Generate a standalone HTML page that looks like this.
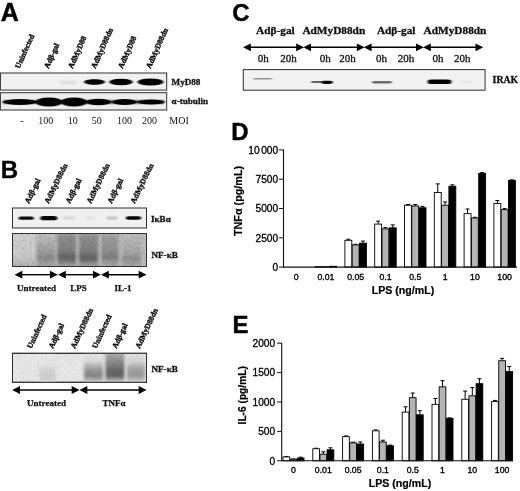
<!DOCTYPE html>
<html><head><meta charset="utf-8"><title>Figure</title>
<style>
html,body{margin:0;padding:0;background:#fff;}
svg{display:block;}
.sb{font-family:"Liberation Serif",serif;font-weight:bold;fill:#111;}
.sr{font-family:"Liberation Serif",serif;fill:#111;}
.hb{font-family:"Liberation Sans",sans-serif;font-weight:bold;fill:#000;}
.hr{font-family:"Liberation Sans",sans-serif;fill:#000;}
</style></head><body>
<svg width="520" height="491" viewBox="0 0 520 491">
<defs>
<filter id="b1" x="-20%" y="-50%" width="140%" height="200%"><feGaussianBlur stdDeviation="1.1 0.8"/></filter>
<filter id="b2" x="-20%" y="-50%" width="140%" height="200%"><feGaussianBlur stdDeviation="2 1.5"/></filter>
<filter id="b3" x="-30%" y="-30%" width="160%" height="160%"><feGaussianBlur stdDeviation="2.5 3.5"/></filter>
<filter id="b0" x="-20%" y="-50%" width="140%" height="200%"><feGaussianBlur stdDeviation="0.8 0.55"/></filter>
<filter id="ns" x="0" y="0" width="100%" height="100%"><feTurbulence type="fractalNoise" baseFrequency="0.4" numOctaves="2" seed="3" result="t"/><feColorMatrix in="t" type="matrix" values="0 0 0 0 0  0 0 0 0 0  0 0 0 0 0  1.6 0 0 0 -0.55"/></filter>
<filter id="bl" x="-20%" y="-20%" width="140%" height="140%"><feGaussianBlur stdDeviation="1.6 1.4"/></filter>
<clipPath id="cA1"><rect x="0.4" y="73" width="166.3" height="17.1"/></clipPath>
<clipPath id="cA2"><rect x="0.4" y="92.7" width="166.3" height="17.3"/></clipPath>
<clipPath id="cB1"><rect x="12" y="208" width="135" height="20"/></clipPath>
<clipPath id="cB2"><rect x="12" y="233.5" width="135" height="33"/></clipPath>
<clipPath id="cB3"><rect x="12" y="353" width="135" height="30"/></clipPath>
<clipPath id="cC1"><rect x="243" y="69.5" width="243" height="21"/></clipPath>
</defs>
<rect width="520" height="491" fill="#fff"/>

<text class="hb" x="0.7" y="21.4" font-size="25" stroke="#000" stroke-width="0.4">A</text>
<text class="sb" font-size="7.8" stroke="#111" stroke-width="0.4" transform="translate(19.6,69) rotate(-66)">Uninfected</text>
<text class="sb" font-size="7.8" stroke="#111" stroke-width="0.4" transform="translate(48.6,69) rotate(-66)">Adβ-gal</text>
<text class="sb" font-size="7.8" stroke="#111" stroke-width="0.4" transform="translate(72.6,69) rotate(-66)">AdMyD88</text>
<text class="sb" font-size="7.8" stroke="#111" stroke-width="0.4" transform="translate(95.6,69) rotate(-66)">AdMyD88dn</text>
<text class="sb" font-size="7.8" stroke="#111" stroke-width="0.4" transform="translate(122.6,69) rotate(-66)">AdMyD88</text>
<text class="sb" font-size="7.8" stroke="#111" stroke-width="0.4" transform="translate(150.6,69) rotate(-66)">AdMyD88dn</text>
<rect x="0.4" y="73" width="166.3" height="17.1" fill="#f1f1f1" stroke="#303030" stroke-width="1"/>
<g clip-path="url(#cA1)">
<ellipse cx="68" cy="82.6" rx="9" ry="1.4" fill="#999" opacity="0.3" filter="url(#b1)"/>
<ellipse cx="94.5" cy="82" rx="10.5" ry="2.7" fill="#060606" filter="url(#b0)"/>
<rect x="88.2" y="79.70" width="12.6" height="4.59" rx="2" fill="#060606" filter="url(#b0)"/>
<ellipse cx="121" cy="82" rx="11.8" ry="3.2" fill="#060606" filter="url(#b0)"/>
<rect x="113.9" y="79.28" width="14.2" height="5.44" rx="2" fill="#060606" filter="url(#b0)"/>
<ellipse cx="150.5" cy="82" rx="13" ry="3.5" fill="#060606" filter="url(#b0)"/>
<rect x="142.7" y="79.03" width="15.6" height="5.95" rx="2" fill="#060606" filter="url(#b0)"/>
</g>
<rect x="0.4" y="92.7" width="166.3" height="17.3" fill="#eee" stroke="#303030" stroke-width="1"/>
<g clip-path="url(#cA2)">
<rect x="3" y="100.8" width="161" height="2.4" fill="#111" filter="url(#b1)"/>
<ellipse cx="20" cy="102" rx="17" ry="2.9" fill="#050505" filter="url(#b0)"/>
<ellipse cx="49" cy="102" rx="13.5" ry="4.6" fill="#050505" filter="url(#b0)"/>
<ellipse cx="74" cy="102" rx="13" ry="4.6" fill="#050505" filter="url(#b0)"/>
<ellipse cx="98.5" cy="102" rx="12.5" ry="3.3" fill="#050505" filter="url(#b0)"/>
<ellipse cx="124.5" cy="102" rx="12.5" ry="2.9" fill="#050505" filter="url(#b0)"/>
<ellipse cx="151" cy="102" rx="13.5" ry="2.6" fill="#050505" filter="url(#b0)"/>
</g>
<text class="sb" x="171.6" y="85" font-size="9.1" stroke="#111" stroke-width="0.3">MyD88</text>
<text class="sb" x="171.6" y="104" font-size="9.1" stroke="#111" stroke-width="0.3">α-tubulin</text>
<text class="sr" x="22" y="123.6" font-size="10" text-anchor="middle">-</text>
<text class="sr" x="45.7" y="123.6" font-size="10" text-anchor="middle">100</text>
<text class="sr" x="72.7" y="123.6" font-size="10" text-anchor="middle">10</text>
<text class="sr" x="96.7" y="123.6" font-size="10" text-anchor="middle">50</text>
<text class="sr" x="124.6" y="123.6" font-size="10" text-anchor="middle">100</text>
<text class="sr" x="149.5" y="123.6" font-size="10" text-anchor="middle">200</text>
<text class="sr" x="169.3" y="123.6" font-size="10">MOI</text>
<text class="hb" x="0.8" y="177.7" font-size="24" stroke="#000" stroke-width="0.4">B</text>
<text class="sb" font-size="7.8" stroke="#111" stroke-width="0.4" transform="translate(29,204) rotate(-64)">Adβ-gal</text>
<text class="sb" font-size="7.8" stroke="#111" stroke-width="0.4" transform="translate(48.8,204) rotate(-64)">AdMyD88dn</text>
<text class="sb" font-size="7.8" stroke="#111" stroke-width="0.4" transform="translate(70,204) rotate(-64)">Adβ-gal</text>
<text class="sb" font-size="7.8" stroke="#111" stroke-width="0.4" transform="translate(91,204) rotate(-64)">AdMyD88dn</text>
<text class="sb" font-size="7.8" stroke="#111" stroke-width="0.4" transform="translate(111.7,204) rotate(-64)">Adβ-gal</text>
<text class="sb" font-size="7.8" stroke="#111" stroke-width="0.4" transform="translate(134.8,204) rotate(-64)">AdMyD88dn</text>
<rect x="12.5" y="208" width="134" height="20" fill="#f0f0f0" stroke="#303030" stroke-width="1"/>
<g clip-path="url(#cB1)">
<rect x="18.45" y="216.60" width="15.5" height="3.2" rx="2.56" ry="1.60" fill="#0a0a0a" opacity="1" filter="url(#b0)"/>
<rect x="40.30" y="216.10" width="17" height="4.2" rx="3.36" ry="2.10" fill="#050505" opacity="1" filter="url(#b0)"/>
<rect x="63.00" y="216.90" width="12" height="2.2" rx="1.76" ry="1.10" fill="#888" opacity="0.38" filter="url(#b1)"/>
<rect x="86.00" y="217.00" width="10" height="2" rx="1.60" ry="1.00" fill="#aaa" opacity="0.3" filter="url(#b1)"/>
<rect x="106.00" y="216.90" width="12" height="2.2" rx="1.76" ry="1.10" fill="#666" opacity="0.5" filter="url(#b1)"/>
<rect x="125.75" y="216.30" width="15.5" height="3.4" rx="2.72" ry="1.70" fill="#050505" opacity="1" filter="url(#b0)"/>
</g>
<rect x="12.5" y="233.5" width="134" height="33" fill="#bdbdbd" stroke="#303030" stroke-width="1"/>
<g clip-path="url(#cB2)">
<linearGradient id="lg1" x1="0" y1="0" x2="0" y2="1"><stop offset="0%" stop-color="#d2d2d2"/><stop offset="65%" stop-color="#cdcdcd"/><stop offset="88%" stop-color="#b8b8b8"/><stop offset="100%" stop-color="#a8a8a8"/></linearGradient>
<rect x="10" y="231" width="26" height="38" fill="url(#lg1)" filter="url(#bl)"/>
<linearGradient id="lg2" x1="0" y1="0" x2="0" y2="1"><stop offset="0%" stop-color="#c6c6c6"/><stop offset="28%" stop-color="#b4b4b4"/><stop offset="60%" stop-color="#999"/><stop offset="72%" stop-color="#888"/><stop offset="86%" stop-color="#a6a6a6"/><stop offset="100%" stop-color="#a6a6a6"/></linearGradient>
<rect x="37" y="231" width="18" height="38" fill="url(#lg2)" filter="url(#bl)"/>
<linearGradient id="lg3" x1="0" y1="0" x2="0" y2="1"><stop offset="0%" stop-color="#b4b4b4"/><stop offset="16%" stop-color="#8e8e8e"/><stop offset="52%" stop-color="#828282"/><stop offset="66%" stop-color="#666"/><stop offset="76%" stop-color="#6a6a6a"/><stop offset="88%" stop-color="#9c9c9c"/><stop offset="100%" stop-color="#a6a6a6"/></linearGradient>
<rect x="57.5" y="231" width="18.5" height="38" fill="url(#lg3)" filter="url(#bl)"/>
<linearGradient id="lg4" x1="0" y1="0" x2="0" y2="1"><stop offset="0%" stop-color="#b4b4b4"/><stop offset="16%" stop-color="#8e8e8e"/><stop offset="52%" stop-color="#828282"/><stop offset="66%" stop-color="#666"/><stop offset="76%" stop-color="#6a6a6a"/><stop offset="88%" stop-color="#9c9c9c"/><stop offset="100%" stop-color="#a6a6a6"/></linearGradient>
<rect x="79" y="231" width="19" height="38" fill="url(#lg4)" filter="url(#bl)"/>
<linearGradient id="lg5" x1="0" y1="0" x2="0" y2="1"><stop offset="0%" stop-color="#bcbcbc"/><stop offset="20%" stop-color="#9c9c9c"/><stop offset="58%" stop-color="#8e8e8e"/><stop offset="68%" stop-color="#7a7a7a"/><stop offset="84%" stop-color="#a2a2a2"/><stop offset="100%" stop-color="#aaa"/></linearGradient>
<rect x="101.5" y="231" width="17" height="38" fill="url(#lg5)" filter="url(#bl)"/>
<linearGradient id="lg6" x1="0" y1="0" x2="0" y2="1"><stop offset="0%" stop-color="#c2c2c2"/><stop offset="30%" stop-color="#b6b6b6"/><stop offset="60%" stop-color="#a6a6a6"/><stop offset="72%" stop-color="#8c8c8c"/><stop offset="86%" stop-color="#a6a6a6"/><stop offset="100%" stop-color="#aaa"/></linearGradient>
<rect x="122" y="231" width="19" height="38" fill="url(#lg6)" filter="url(#bl)"/>
<rect x="12" y="233.5" width="135" height="33" fill="#000" filter="url(#ns)" opacity="0.13"/>
</g>
<rect x="12.5" y="233.5" width="134" height="33" fill="none" stroke="#303030" stroke-width="1"/>
<text class="sb" x="151" y="222" font-size="9.1" stroke="#111" stroke-width="0.3">IκBα</text>
<text class="sb" x="151.5" y="258" font-size="9.1" stroke="#111" stroke-width="0.3">NF-κB</text>
<line x1="21.3" y1="274.7" x2="51.0" y2="274.7" stroke="#000" stroke-width="1.4"/>
<path d="M14.5,274.7 L22.3,270.8 L22.3,278.59999999999997 z" fill="#000"/>
<path d="M57.8,274.7 L50.0,270.8 L50.0,278.59999999999997 z" fill="#000"/>
<line x1="64.8" y1="274.7" x2="94.0" y2="274.7" stroke="#000" stroke-width="1.4"/>
<path d="M58,274.7 L65.8,270.8 L65.8,278.59999999999997 z" fill="#000"/>
<path d="M100.8,274.7 L93.0,270.8 L93.0,278.59999999999997 z" fill="#000"/>
<line x1="107.8" y1="274.7" x2="139.7" y2="274.7" stroke="#000" stroke-width="1.4"/>
<path d="M101,274.7 L108.8,270.8 L108.8,278.59999999999997 z" fill="#000"/>
<path d="M146.5,274.7 L138.7,270.8 L138.7,278.59999999999997 z" fill="#000"/>
<text class="sb" x="36.5" y="291" font-size="9" stroke="#111" stroke-width="0.25" text-anchor="middle">Untreated</text>
<text class="sb" x="78.5" y="291" font-size="9" stroke="#111" stroke-width="0.25" text-anchor="middle">LPS</text>
<text class="sb" x="123" y="291" font-size="9" stroke="#111" stroke-width="0.25" text-anchor="middle">IL-1</text>
<text class="sb" font-size="7.8" stroke="#111" stroke-width="0.4" transform="translate(31.5,349) rotate(-65)">Uninfected</text>
<text class="sb" font-size="7.8" stroke="#111" stroke-width="0.4" transform="translate(53,349) rotate(-65)">Adβ-gal</text>
<text class="sb" font-size="7.8" stroke="#111" stroke-width="0.4" transform="translate(75,349) rotate(-65)">AdMyD88dn</text>
<text class="sb" font-size="7.8" stroke="#111" stroke-width="0.4" transform="translate(96.5,349) rotate(-65)">Uninfected</text>
<text class="sb" font-size="7.8" stroke="#111" stroke-width="0.4" transform="translate(116.5,349) rotate(-65)">Adβ-gal</text>
<text class="sb" font-size="7.8" stroke="#111" stroke-width="0.4" transform="translate(139.8,349) rotate(-65)">AdMyD88dn</text>
<rect x="12.5" y="353.3" width="134" height="29" fill="#e8e8e8" stroke="#303030" stroke-width="1"/>
<g clip-path="url(#cB3)">
<linearGradient id="lg7" x1="0" y1="0" x2="0" y2="1"><stop offset="0%" stop-color="#e8e8e8"/><stop offset="40%" stop-color="#e6e6e6"/><stop offset="60%" stop-color="#d2d2d2"/><stop offset="85%" stop-color="#cecece"/><stop offset="95%" stop-color="#e0e0e0"/><stop offset="100%" stop-color="#e6e6e6"/></linearGradient>
<rect x="39.5" y="353" width="16" height="30" fill="url(#lg7)" filter="url(#bl)"/>
<linearGradient id="lg8" x1="0" y1="0" x2="0" y2="1"><stop offset="0%" stop-color="#e6e6e6"/><stop offset="28%" stop-color="#dcdcdc"/><stop offset="45%" stop-color="#b0b0b0"/><stop offset="65%" stop-color="#8c8c8c"/><stop offset="80%" stop-color="#868686"/><stop offset="92%" stop-color="#c4c4c4"/><stop offset="100%" stop-color="#dcdcdc"/></linearGradient>
<rect x="84" y="353" width="19" height="30" fill="url(#lg8)" filter="url(#bl)"/>
<linearGradient id="lg9" x1="0" y1="0" x2="0" y2="1"><stop offset="0%" stop-color="#b8b8b8"/><stop offset="20%" stop-color="#a0a0a0"/><stop offset="45%" stop-color="#808080"/><stop offset="65%" stop-color="#646464"/><stop offset="80%" stop-color="#666"/><stop offset="92%" stop-color="#b4b4b4"/><stop offset="100%" stop-color="#d8d8d8"/></linearGradient>
<rect x="105.5" y="350" width="19" height="33" fill="url(#lg9)" filter="url(#bl)"/>
<linearGradient id="lg10" x1="0" y1="0" x2="0" y2="1"><stop offset="0%" stop-color="#e4e4e4"/><stop offset="30%" stop-color="#d4d4d4"/><stop offset="50%" stop-color="#a8a8a8"/><stop offset="70%" stop-color="#979797"/><stop offset="82%" stop-color="#a6a6a6"/><stop offset="93%" stop-color="#cfcfcf"/><stop offset="100%" stop-color="#dedede"/></linearGradient>
<rect x="127" y="353" width="18" height="30" fill="url(#lg10)" filter="url(#bl)"/>
<rect x="12" y="353" width="135" height="30" fill="#000" filter="url(#ns)" opacity="0.06"/>
</g>
<rect x="12.5" y="353.3" width="134" height="29" fill="none" stroke="#303030" stroke-width="1"/>
<text class="sb" x="151.5" y="372" font-size="9.1" stroke="#111" stroke-width="0.3">NF-κB</text>
<line x1="19.0" y1="390" x2="72.7" y2="390" stroke="#000" stroke-width="1.4"/>
<path d="M12.2,390 L20.0,386.1 L20.0,393.9 z" fill="#000"/>
<path d="M79.5,390 L71.7,386.1 L71.7,393.9 z" fill="#000"/>
<line x1="86.3" y1="390" x2="139.7" y2="390" stroke="#000" stroke-width="1.4"/>
<path d="M79.5,390 L87.3,386.1 L87.3,393.9 z" fill="#000"/>
<path d="M146.5,390 L138.7,386.1 L138.7,393.9 z" fill="#000"/>
<text class="sb" x="46.5" y="406" font-size="9" stroke="#111" stroke-width="0.25" text-anchor="middle">Untreated</text>
<text class="sb" x="114" y="406" font-size="9" stroke="#111" stroke-width="0.25" text-anchor="middle">TNFα</text>
<text class="hb" x="232.2" y="20.9" font-size="24" stroke="#000" stroke-width="0.4">C</text>
<text class="sb" x="275.4" y="34.2" font-size="11.3" stroke="#111" stroke-width="0.3" text-anchor="middle">Adβ-gal</text>
<text class="sb" x="333.8" y="34.2" font-size="11.3" stroke="#111" stroke-width="0.3" text-anchor="middle">AdMyD88dn</text>
<text class="sb" x="396.2" y="34.2" font-size="11.3" stroke="#111" stroke-width="0.3" text-anchor="middle">Adβ-gal</text>
<text class="sb" x="455" y="34.2" font-size="11.3" stroke="#111" stroke-width="0.3" text-anchor="middle">AdMyD88dn</text>
<line x1="249.8" y1="47.3" x2="297.2" y2="47.3" stroke="#000" stroke-width="1.4"/>
<path d="M243,47.3 L250.8,43.4 L250.8,51.199999999999996 z" fill="#000"/>
<path d="M304,47.3 L296.2,43.4 L296.2,51.199999999999996 z" fill="#000"/>
<line x1="310.0" y1="47.3" x2="357.8" y2="47.3" stroke="#000" stroke-width="1.4"/>
<path d="M303.2,47.3 L311.0,43.4 L311.0,51.199999999999996 z" fill="#000"/>
<path d="M364.6,47.3 L356.8,43.4 L356.8,51.199999999999996 z" fill="#000"/>
<line x1="370.6" y1="47.3" x2="417.0" y2="47.3" stroke="#000" stroke-width="1.4"/>
<path d="M363.8,47.3 L371.6,43.4 L371.6,51.199999999999996 z" fill="#000"/>
<path d="M423.8,47.3 L416.0,43.4 L416.0,51.199999999999996 z" fill="#000"/>
<line x1="429.8" y1="47.3" x2="476.5" y2="47.3" stroke="#000" stroke-width="1.4"/>
<path d="M423,47.3 L430.8,43.4 L430.8,51.199999999999996 z" fill="#000"/>
<path d="M483.3,47.3 L475.5,43.4 L475.5,51.199999999999996 z" fill="#000"/>
<text class="sr" x="263.3" y="62.4" font-size="11" stroke="#111" stroke-width="0.3" text-anchor="middle">0h</text>
<text class="sr" x="288.4" y="62.4" font-size="11" stroke="#111" stroke-width="0.3" text-anchor="middle">20h</text>
<text class="sr" x="325.2" y="62.4" font-size="11" stroke="#111" stroke-width="0.3" text-anchor="middle">0h</text>
<text class="sr" x="347.6" y="62.4" font-size="11" stroke="#111" stroke-width="0.3" text-anchor="middle">20h</text>
<text class="sr" x="381.5" y="62.4" font-size="11" stroke="#111" stroke-width="0.3" text-anchor="middle">0h</text>
<text class="sr" x="406" y="62.4" font-size="11" stroke="#111" stroke-width="0.3" text-anchor="middle">20h</text>
<text class="sr" x="438" y="62.4" font-size="11" stroke="#111" stroke-width="0.3" text-anchor="middle">0h</text>
<text class="sr" x="462.3" y="62.4" font-size="11" stroke="#111" stroke-width="0.3" text-anchor="middle">20h</text>
<rect x="243.3" y="69.6" width="241.8" height="20.6" fill="#f2f2f2" stroke="#303030" stroke-width="1"/>
<g clip-path="url(#cC1)">
<rect x="253.00" y="78.05" width="19" height="1.5" rx="1.20" ry="0.75" fill="#777" opacity="0.75" filter="url(#b0)"/>
<rect x="311.00" y="80.90" width="22" height="2.2" rx="1.76" ry="1.10" fill="#555" opacity="0.9" filter="url(#b0)"/>
<rect x="321.50" y="80.70" width="11" height="3.2" rx="2.56" ry="1.60" fill="#050505" opacity="1" filter="url(#b0)"/>
<rect x="372.00" y="81.10" width="20" height="2.4" rx="1.92" ry="1.20" fill="#555" opacity="0.85" filter="url(#b0)"/>
<rect x="427.50" y="79.40" width="24" height="4.6" rx="3.68" ry="2.30" fill="#050505" opacity="1" filter="url(#b0)"/>
<rect x="460.50" y="81.00" width="11" height="2" rx="1.60" ry="1.00" fill="#bbb" opacity="0.25" filter="url(#b1)"/>
</g>
<text class="sb" x="492.6" y="83.4" font-size="9.8" stroke="#111" stroke-width="0.3">IRAK</text>
<text class="hb" x="231.3" y="139.5" font-size="24" stroke="#000" stroke-width="0.4">D</text>
<rect x="315.10" y="266.63" width="6.90" height="0.47" fill="#fff" stroke="#000" stroke-width="0.9"/>
<rect x="322.40" y="266.75" width="6.90" height="0.35" fill="#b4b4b4" stroke="#000" stroke-width="0.9"/>
<rect x="329.70" y="266.28" width="6.90" height="0.82" fill="#000" stroke="#000" stroke-width="0.9"/>
<path d="M348.35,240.30 V239.24 M346.35,239.24 H350.35" stroke="#000" stroke-width="1" fill="none"/>
<rect x="344.90" y="240.30" width="6.90" height="26.80" fill="#fff" stroke="#000" stroke-width="0.9"/>
<path d="M355.65,244.90 V244.32 M353.65,244.32 H357.65" stroke="#000" stroke-width="1" fill="none"/>
<rect x="352.20" y="244.90" width="6.90" height="22.20" fill="#b4b4b4" stroke="#000" stroke-width="0.9"/>
<path d="M362.95,243.19 V241.08 M360.95,241.08 H364.95" stroke="#000" stroke-width="1" fill="none"/>
<rect x="359.50" y="243.19" width="6.90" height="23.91" fill="#000" stroke="#000" stroke-width="0.9"/>
<path d="M378.15,224.09 V221.16 M376.15,221.16 H380.15" stroke="#000" stroke-width="1" fill="none"/>
<rect x="374.70" y="224.09" width="6.90" height="43.01" fill="#fff" stroke="#000" stroke-width="0.9"/>
<path d="M385.45,228.89 V227.49 M383.45,227.49 H387.45" stroke="#000" stroke-width="1" fill="none"/>
<rect x="382.00" y="228.89" width="6.90" height="38.21" fill="#b4b4b4" stroke="#000" stroke-width="0.9"/>
<path d="M392.75,227.84 V224.91 M390.75,224.91 H394.75" stroke="#000" stroke-width="1" fill="none"/>
<rect x="389.30" y="227.84" width="6.90" height="39.26" fill="#000" stroke="#000" stroke-width="0.9"/>
<path d="M407.95,205.22 V204.52 M405.95,204.52 H409.95" stroke="#000" stroke-width="1" fill="none"/>
<rect x="404.50" y="205.22" width="6.90" height="61.88" fill="#fff" stroke="#000" stroke-width="0.9"/>
<path d="M415.25,205.98 V204.57 M413.25,204.57 H417.25" stroke="#000" stroke-width="1" fill="none"/>
<rect x="411.80" y="205.98" width="6.90" height="61.12" fill="#b4b4b4" stroke="#000" stroke-width="0.9"/>
<path d="M422.55,207.80 V206.39 M420.55,206.39 H424.55" stroke="#000" stroke-width="1" fill="none"/>
<rect x="419.10" y="207.80" width="6.90" height="59.30" fill="#000" stroke="#000" stroke-width="0.9"/>
<path d="M437.75,192.44 V183.89 M435.75,183.89 H439.75" stroke="#000" stroke-width="1" fill="none"/>
<rect x="434.30" y="192.44" width="6.90" height="74.66" fill="#fff" stroke="#000" stroke-width="0.9"/>
<path d="M445.05,205.22 V201.94 M443.05,201.94 H447.05" stroke="#000" stroke-width="1" fill="none"/>
<rect x="441.60" y="205.22" width="6.90" height="61.88" fill="#b4b4b4" stroke="#000" stroke-width="0.9"/>
<path d="M452.35,186.23 V184.83 M450.35,184.83 H454.35" stroke="#000" stroke-width="1" fill="none"/>
<rect x="448.90" y="186.23" width="6.90" height="80.87" fill="#000" stroke="#000" stroke-width="0.9"/>
<path d="M467.55,213.66 V208.97 M465.55,208.97 H469.55" stroke="#000" stroke-width="1" fill="none"/>
<rect x="464.10" y="213.66" width="6.90" height="53.44" fill="#fff" stroke="#000" stroke-width="0.9"/>
<path d="M474.85,217.99 V217.29 M472.85,217.29 H476.85" stroke="#000" stroke-width="1" fill="none"/>
<rect x="471.40" y="217.99" width="6.90" height="49.11" fill="#b4b4b4" stroke="#000" stroke-width="0.9"/>
<path d="M482.15,173.34 V172.64 M480.15,172.64 H484.15" stroke="#000" stroke-width="1" fill="none"/>
<rect x="478.70" y="173.34" width="6.90" height="93.76" fill="#000" stroke="#000" stroke-width="0.9"/>
<path d="M497.35,203.40 V200.47 M495.35,200.47 H499.35" stroke="#000" stroke-width="1" fill="none"/>
<rect x="493.90" y="203.40" width="6.90" height="63.70" fill="#fff" stroke="#000" stroke-width="0.9"/>
<path d="M504.65,209.67 V208.62 M502.65,208.62 H506.65" stroke="#000" stroke-width="1" fill="none"/>
<rect x="501.20" y="209.67" width="6.90" height="57.43" fill="#b4b4b4" stroke="#000" stroke-width="0.9"/>
<path d="M511.95,180.37 V179.90 M509.95,179.90 H513.95" stroke="#000" stroke-width="1" fill="none"/>
<rect x="508.50" y="180.37" width="6.90" height="86.73" fill="#000" stroke="#000" stroke-width="0.9"/>
<path d="M283.5,149.40000000000003 V267.1 H517" stroke="#111" stroke-width="1.1" fill="none"/>
<line x1="279.0" y1="267.1" x2="283.5" y2="267.1" stroke="#111" stroke-width="1"/>
<text class="hr" x="278.2" y="270.90000000000003" font-size="10.2" stroke="#000" stroke-width="0.3" text-anchor="end">0</text>
<line x1="279.0" y1="237.8" x2="283.5" y2="237.8" stroke="#111" stroke-width="1"/>
<text class="hr" x="278.2" y="241.60000000000002" font-size="10.2" stroke="#000" stroke-width="0.3" text-anchor="end">2500</text>
<line x1="279.0" y1="208.50000000000003" x2="283.5" y2="208.50000000000003" stroke="#111" stroke-width="1"/>
<text class="hr" x="278.2" y="212.30000000000004" font-size="10.2" stroke="#000" stroke-width="0.3" text-anchor="end">5000</text>
<line x1="279.0" y1="179.20000000000002" x2="283.5" y2="179.20000000000002" stroke="#111" stroke-width="1"/>
<text class="hr" x="278.2" y="183.00000000000003" font-size="10.2" stroke="#000" stroke-width="0.3" text-anchor="end">7500</text>
<line x1="279.0" y1="149.90000000000003" x2="283.5" y2="149.90000000000003" stroke="#111" stroke-width="1"/>
<text class="hr" x="278.2" y="153.70000000000005" font-size="10.2" stroke="#000" stroke-width="0.3" text-anchor="end">10<tspan dx="1.5">000</tspan></text>
<text class="hr" x="296.1" y="279.5" font-size="8.7" stroke="#000" stroke-width="0.35" text-anchor="middle">0</text>
<text class="hr" x="325.9" y="279.5" font-size="8.7" stroke="#000" stroke-width="0.35" text-anchor="middle">0.01</text>
<text class="hr" x="355.7" y="279.5" font-size="8.7" stroke="#000" stroke-width="0.35" text-anchor="middle">0.05</text>
<text class="hr" x="385.5" y="279.5" font-size="8.7" stroke="#000" stroke-width="0.35" text-anchor="middle">0.1</text>
<text class="hr" x="415.2" y="279.5" font-size="8.7" stroke="#000" stroke-width="0.35" text-anchor="middle">0.5</text>
<text class="hr" x="445.1" y="279.5" font-size="8.7" stroke="#000" stroke-width="0.35" text-anchor="middle">1</text>
<text class="hr" x="474.9" y="279.5" font-size="8.7" stroke="#000" stroke-width="0.35" text-anchor="middle">10</text>
<text class="hr" x="504.6" y="279.5" font-size="8.7" stroke="#000" stroke-width="0.35" text-anchor="middle">100</text>
<text class="hb" x="403" y="293.5" font-size="10.6" stroke="#000" stroke-width="0.2" text-anchor="middle">LPS (ng/mL)</text>
<text class="hb" font-size="10.8" stroke="#000" stroke-width="0.2" text-anchor="middle" transform="translate(242.3,201) rotate(-90)">TNFα (pg/mL)</text>
<text class="hb" x="232.5" y="333" font-size="24" stroke="#000" stroke-width="0.4">E</text>
<path d="M286.35,456.92 V456.45 M284.35,456.45 H288.35" stroke="#000" stroke-width="1" fill="none"/>
<rect x="283.00" y="456.92" width="6.70" height="3.88" fill="#fff" stroke="#000" stroke-width="0.9"/>
<path d="M293.50,459.21 V458.92 M291.50,458.92 H295.50" stroke="#000" stroke-width="1" fill="none"/>
<rect x="290.15" y="459.21" width="6.70" height="1.59" fill="#b4b4b4" stroke="#000" stroke-width="0.9"/>
<path d="M300.65,458.04 V457.15 M298.65,457.15 H302.65" stroke="#000" stroke-width="1" fill="none"/>
<rect x="297.30" y="458.04" width="6.70" height="2.76" fill="#000" stroke="#000" stroke-width="0.9"/>
<path d="M316.15,448.75 V448.28 M314.15,448.28 H318.15" stroke="#000" stroke-width="1" fill="none"/>
<rect x="312.80" y="448.75" width="6.70" height="12.05" fill="#fff" stroke="#000" stroke-width="0.9"/>
<path d="M323.30,454.16 V451.80 M321.30,451.80 H325.30" stroke="#000" stroke-width="1" fill="none"/>
<rect x="319.95" y="454.16" width="6.70" height="6.64" fill="#b4b4b4" stroke="#000" stroke-width="0.9"/>
<path d="M330.45,449.86 V447.81 M328.45,447.81 H332.45" stroke="#000" stroke-width="1" fill="none"/>
<rect x="327.10" y="449.86" width="6.70" height="10.94" fill="#000" stroke="#000" stroke-width="0.9"/>
<path d="M345.95,436.63 V435.93 M343.95,435.93 H347.95" stroke="#000" stroke-width="1" fill="none"/>
<rect x="342.60" y="436.63" width="6.70" height="24.17" fill="#fff" stroke="#000" stroke-width="0.9"/>
<path d="M353.10,442.87 V442.16 M351.10,442.16 H355.10" stroke="#000" stroke-width="1" fill="none"/>
<rect x="349.75" y="442.87" width="6.70" height="17.93" fill="#b4b4b4" stroke="#000" stroke-width="0.9"/>
<path d="M360.25,444.04 V441.98 M358.25,441.98 H362.25" stroke="#000" stroke-width="1" fill="none"/>
<rect x="356.90" y="444.04" width="6.70" height="16.76" fill="#000" stroke="#000" stroke-width="0.9"/>
<path d="M375.75,430.81 V429.93 M373.75,429.93 H377.75" stroke="#000" stroke-width="1" fill="none"/>
<rect x="372.40" y="430.81" width="6.70" height="29.99" fill="#fff" stroke="#000" stroke-width="0.9"/>
<path d="M382.90,441.98 V440.22 M380.90,440.22 H384.90" stroke="#000" stroke-width="1" fill="none"/>
<rect x="379.55" y="441.98" width="6.70" height="18.82" fill="#b4b4b4" stroke="#000" stroke-width="0.9"/>
<path d="M390.05,445.81 V445.10 M388.05,445.10 H392.05" stroke="#000" stroke-width="1" fill="none"/>
<rect x="386.70" y="445.81" width="6.70" height="14.99" fill="#000" stroke="#000" stroke-width="0.9"/>
<path d="M405.55,412.11 V406.82 M403.55,406.82 H407.55" stroke="#000" stroke-width="1" fill="none"/>
<rect x="402.20" y="412.11" width="6.70" height="48.69" fill="#fff" stroke="#000" stroke-width="0.9"/>
<path d="M412.70,397.71 V393.00 M410.70,393.00 H414.70" stroke="#000" stroke-width="1" fill="none"/>
<rect x="409.35" y="397.71" width="6.70" height="63.09" fill="#b4b4b4" stroke="#000" stroke-width="0.9"/>
<path d="M419.85,414.82 V410.70 M417.85,410.70 H421.85" stroke="#000" stroke-width="1" fill="none"/>
<rect x="416.50" y="414.82" width="6.70" height="45.98" fill="#000" stroke="#000" stroke-width="0.9"/>
<path d="M435.35,404.35 V398.47 M433.35,398.47 H437.35" stroke="#000" stroke-width="1" fill="none"/>
<rect x="432.00" y="404.35" width="6.70" height="56.45" fill="#fff" stroke="#000" stroke-width="0.9"/>
<path d="M442.50,386.83 V380.66 M440.50,380.66 H444.50" stroke="#000" stroke-width="1" fill="none"/>
<rect x="439.15" y="386.83" width="6.70" height="73.97" fill="#b4b4b4" stroke="#000" stroke-width="0.9"/>
<path d="M449.65,418.35 V417.88 M447.65,417.88 H451.65" stroke="#000" stroke-width="1" fill="none"/>
<rect x="446.30" y="418.35" width="6.70" height="42.45" fill="#000" stroke="#000" stroke-width="0.9"/>
<path d="M465.15,399.30 V391.06 M463.15,391.06 H467.15" stroke="#000" stroke-width="1" fill="none"/>
<rect x="461.80" y="399.30" width="6.70" height="61.50" fill="#fff" stroke="#000" stroke-width="0.9"/>
<path d="M472.30,395.83 V387.59 M470.30,387.59 H474.30" stroke="#000" stroke-width="1" fill="none"/>
<rect x="468.95" y="395.83" width="6.70" height="64.97" fill="#b4b4b4" stroke="#000" stroke-width="0.9"/>
<path d="M479.45,383.71 V378.72 M477.45,378.72 H481.45" stroke="#000" stroke-width="1" fill="none"/>
<rect x="476.10" y="383.71" width="6.70" height="77.09" fill="#000" stroke="#000" stroke-width="0.9"/>
<path d="M494.95,401.59 V400.41 M492.95,400.41 H496.95" stroke="#000" stroke-width="1" fill="none"/>
<rect x="491.60" y="401.59" width="6.70" height="59.21" fill="#fff" stroke="#000" stroke-width="0.9"/>
<path d="M502.10,360.72 V358.37 M500.10,358.37 H504.10" stroke="#000" stroke-width="1" fill="none"/>
<rect x="498.75" y="360.72" width="6.70" height="100.08" fill="#b4b4b4" stroke="#000" stroke-width="0.9"/>
<path d="M509.25,371.60 V366.60 M507.25,366.60 H511.25" stroke="#000" stroke-width="1" fill="none"/>
<rect x="505.90" y="371.60" width="6.70" height="89.20" fill="#000" stroke="#000" stroke-width="0.9"/>
<path d="M281.7,342.70000000000005 V460.8 H513" stroke="#111" stroke-width="1.1" fill="none"/>
<line x1="277.2" y1="460.8" x2="281.7" y2="460.8" stroke="#111" stroke-width="1"/>
<text class="hr" x="275.2" y="464.6" font-size="10.2" stroke="#000" stroke-width="0.3" text-anchor="end">0</text>
<line x1="277.2" y1="431.40000000000003" x2="281.7" y2="431.40000000000003" stroke="#111" stroke-width="1"/>
<text class="hr" x="275.2" y="435.20000000000005" font-size="10.2" stroke="#000" stroke-width="0.3" text-anchor="end">500</text>
<line x1="277.2" y1="402.0" x2="281.7" y2="402.0" stroke="#111" stroke-width="1"/>
<text class="hr" x="275.2" y="405.8" font-size="10.2" stroke="#000" stroke-width="0.3" text-anchor="end">1000</text>
<line x1="277.2" y1="372.6" x2="281.7" y2="372.6" stroke="#111" stroke-width="1"/>
<text class="hr" x="275.2" y="376.40000000000003" font-size="10.2" stroke="#000" stroke-width="0.3" text-anchor="end">1500</text>
<line x1="277.2" y1="343.20000000000005" x2="281.7" y2="343.20000000000005" stroke="#111" stroke-width="1"/>
<text class="hr" x="275.2" y="347.00000000000006" font-size="10.2" stroke="#000" stroke-width="0.3" text-anchor="end">2000</text>
<text class="hr" x="293.5" y="473" font-size="8.7" stroke="#000" stroke-width="0.35" text-anchor="middle">0</text>
<text class="hr" x="323.3" y="473" font-size="8.7" stroke="#000" stroke-width="0.35" text-anchor="middle">0.01</text>
<text class="hr" x="353.1" y="473" font-size="8.7" stroke="#000" stroke-width="0.35" text-anchor="middle">0.05</text>
<text class="hr" x="382.9" y="473" font-size="8.7" stroke="#000" stroke-width="0.35" text-anchor="middle">0.1</text>
<text class="hr" x="412.7" y="473" font-size="8.7" stroke="#000" stroke-width="0.35" text-anchor="middle">0.5</text>
<text class="hr" x="442.5" y="473" font-size="8.7" stroke="#000" stroke-width="0.35" text-anchor="middle">1</text>
<text class="hr" x="472.3" y="473" font-size="8.7" stroke="#000" stroke-width="0.35" text-anchor="middle">10</text>
<text class="hr" x="502.1" y="473" font-size="8.7" stroke="#000" stroke-width="0.35" text-anchor="middle">100</text>
<text class="hb" x="400" y="487" font-size="10.6" stroke="#000" stroke-width="0.2" text-anchor="middle">LPS (ng/mL)</text>
<text class="hb" font-size="10.2" stroke="#000" stroke-width="0.2" text-anchor="middle" transform="translate(246,395.3) rotate(-90)">IL-6 (pg/mL)</text>
</svg></body></html>
